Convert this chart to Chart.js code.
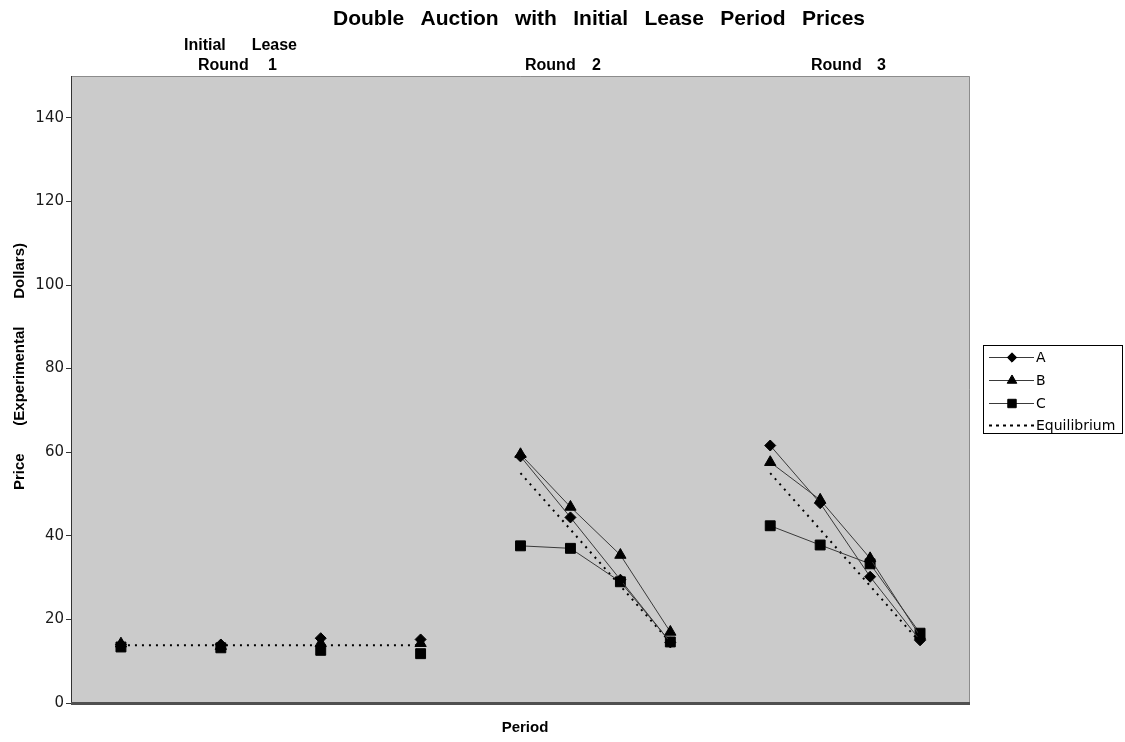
<!DOCTYPE html>
<html>
<head>
<meta charset="utf-8">
<script src="https://cdn.jsdelivr.net/npm/chart.js@4.4.1/dist/chart.umd.min.js"></script>
<style>
  html, body { margin: 0; padding: 0; background: #ffffff; }
  #wrap { width: 1125px; height: 742px; }
</style>
</head>
<body>
<div id="wrap"><canvas id="c" width="1125" height="742"></canvas></div>
<script>
// Period positions along the x scale (round 1 is spaced twice as wide)
const periodPos = [0, 2, 4, 6, 8, 9, 10, 11, 13, 14, 15, 16];
const roundOf   = [1, 1, 1, 1, 2, 2, 2, 2, 3, 3, 3, 3];

// Prices by series
const priceA   = [14.0, 14.0, 15.5, 15.2, 59.0, 44.4, 29.5, 14.5, 61.6, 47.8, 30.2, 15.0];
const priceB   = [14.2, 13.6, 14.3, 14.3, 59.5, 46.9, 35.4, 17.0, 57.6, 48.6, 34.6, 16.0];
const priceC   = [13.4, 13.2, 12.6, 11.8, 37.6, 37.0, 29.0, 14.6, 42.4, 37.8, 33.3, 16.7];
const priceEq  = [13.8, 13.8, 13.8, 13.8, 55.0, 41.5, 28.0, 14.5, 55.0, 41.5, 28.0, 14.5];

const seriesNames = ['A', 'B', 'C', 'Equilibrium'];
const yTicks = [0, 20, 40, 60, 80, 100, 120, 140];

const chartTitle = 'Double Auction with Initial Lease Period Prices';
const roundHeads = [
  { lines: ['Initial Lease', 'Round 1'] },
  { lines: ['Round 2'] },
  { lines: ['Round 3'] }
];
const xTitle = 'Period';
const yTitle = 'Price (Experimental Dollars)';

const toPoints = vals => vals.map((v, i) => ({ x: periodPos[i], y: v }));

// hide segments that cross rounds; series markers in round 1 stay unconnected
const segHide = joinFirstRound => ({
  borderColor: ctx => {
    const a = ctx.p0DataIndex, b = ctx.p1DataIndex;
    if (roundOf[a] !== roundOf[b]) return 'rgba(0,0,0,0)';
    if (!joinFirstRound && roundOf[a] === 1) return 'rgba(0,0,0,0)';
    return undefined;
  }
});

const lineCol = '#3a3a3a';
const datasets = [
  { label: seriesNames[0], data: toPoints(priceA), pointStyle: 'rectRot', pointRadius: 5.5,
    borderColor: lineCol, borderWidth: 1, pointBackgroundColor: '#000', pointBorderColor: '#000',
    pointBorderWidth: 1, segment: segHide(false) },
  { label: seriesNames[1], data: toPoints(priceB), pointStyle: 'triangle', pointRadius: 6.5,
    borderColor: lineCol, borderWidth: 1, pointBackgroundColor: '#000', pointBorderColor: '#000',
    pointBorderWidth: 1, segment: segHide(false) },
  { label: seriesNames[2], data: toPoints(priceC), pointStyle: 'rect', pointRadius: 7,
    borderColor: lineCol, borderWidth: 1, pointBackgroundColor: '#000', pointBorderColor: '#000',
    pointBorderWidth: 1, segment: segHide(false) },
  { label: seriesNames[3], data: toPoints(priceEq), pointRadius: 0, pointHoverRadius: 0,
    borderColor: '#000', borderWidth: 2, borderDash: [2, 5], segment: segHide(true) }
];

// words spread evenly across a span, with the gaps taking up the slack
function drawSpread(ctx, text, x0, x1, y) {
  const words = text.split(' ');
  const widths = words.map(w => ctx.measureText(w).width);
  const total = widths.reduce((s, w) => s + w, 0);
  const gap = words.length > 1 ? (x1 - x0 - total) / (words.length - 1) : 0;
  let x = words.length > 1 ? x0 : (x0 + x1 - total) / 2;
  ctx.textAlign = 'left';
  words.forEach((w, i) => { ctx.fillText(w, x, y); x += widths[i] + gap; });
}

const frame = {
  id: 'frame',
  beforeDraw(chart) {
    const { ctx, chartArea: a } = chart;
    ctx.save();
    ctx.fillStyle = '#cbcbcb';
    ctx.fillRect(a.left, a.top, a.right - a.left, a.bottom - a.top);
    ctx.strokeStyle = '#8c8c8c';
    ctx.lineWidth = 1;
    ctx.beginPath();
    ctx.moveTo(a.left, a.top + 0.5);
    ctx.lineTo(a.right - 0.5, a.top + 0.5);
    ctx.lineTo(a.right - 0.5, a.bottom);
    ctx.stroke();
    ctx.restore();
  },
  afterDatasetsDraw(chart) {
    const { ctx, chartArea: a } = chart;
    ctx.save();
    ctx.strokeStyle = '#505050';
    ctx.lineWidth = 3;
    ctx.beginPath();
    ctx.moveTo(a.left, a.bottom + 0.5);
    ctx.lineTo(a.right, a.bottom + 0.5);
    ctx.stroke();
    ctx.restore();
  }
};

const texts = {
  id: 'texts',
  afterDraw(chart) {
    const { ctx } = chart;
    ctx.save();
    ctx.fillStyle = '#000';
    ctx.textBaseline = 'middle';

    ctx.font = 'bold 21px "Liberation Sans", Arial, sans-serif';
    drawSpread(ctx, chartTitle, 333, 865, 19);

    ctx.font = 'bold 16px "Liberation Sans", Arial, sans-serif';
    drawSpread(ctx, roundHeads[0].lines[0], 184, 297, 46);
    drawSpread(ctx, roundHeads[0].lines[1], 198, 277, 66);
    drawSpread(ctx, roundHeads[1].lines[0], 525, 601, 66);
    drawSpread(ctx, roundHeads[2].lines[0], 811, 886, 66);

    ctx.font = 'bold 15px "Liberation Sans", Arial, sans-serif';
    drawSpread(ctx, xTitle, 498, 552, 728);

    ctx.translate(20, 0);
    ctx.rotate(-Math.PI / 2);
    ctx.font = 'bold 15px "Liberation Sans", Arial, sans-serif';
    drawSpread(ctx, yTitle, -490, -243, 0);
    ctx.restore();

    // legend
    ctx.save();
    const bx = 983.5, by = 345.5, bw = 139, bh = 88;
    ctx.fillStyle = '#fff';
    ctx.fillRect(bx, by, bw, bh);
    ctx.strokeStyle = '#000';
    ctx.lineWidth = 1;
    ctx.strokeRect(bx, by, bw, bh);
    const rowsY = [357, 380, 403, 425];
    chart.data.datasets.forEach((ds, i) => {
      const y = rowsY[i];
      ctx.save();
      ctx.strokeStyle = i === 3 ? '#000' : ds.borderColor;
      ctx.lineWidth = i === 3 ? 2 : 1;
      ctx.setLineDash(i === 3 ? [3, 4] : []);
      ctx.beginPath();
      ctx.moveTo(989, y + 0.5);
      ctx.lineTo(1034, y + 0.5);
      ctx.stroke();
      ctx.restore();
      if (ds.pointRadius > 0) {
        ctx.fillStyle = '#000';
        ctx.strokeStyle = '#000';
        ctx.lineWidth = 1;
        Chart.helpers.drawPoint(ctx, { pointStyle: ds.pointStyle, radius: ds.pointRadius * 0.85, borderWidth: 1 }, 1012, y + 0.5);
      }
      ctx.fillStyle = '#000';
      ctx.font = '14px "DejaVu Sans", sans-serif';
      ctx.textAlign = 'left';
      ctx.textBaseline = 'middle';
      ctx.fillText(ds.label, 1036, y + 1);
    });
    ctx.restore();
  }
};

new Chart(document.getElementById('c'), {
  type: 'line',
  data: { datasets },
  plugins: [frame, texts],
  options: {
    responsive: false,
    animation: false,
    events: [],
    layout: { padding: { top: 76, right: 155, bottom: 39, left: 0 } },
    plugins: { legend: { display: false }, title: { display: false }, tooltip: { enabled: false } },
    scales: {
      x: { type: 'linear', min: -1, max: 17, display: false },
      y: {
        type: 'linear', min: 0, max: 150,
        afterFit: s => { s.width = 71; },
        afterBuildTicks: s => { s.ticks = yTicks.map(v => ({ value: v })); },
        grid: { drawOnChartArea: false, drawTicks: true, tickLength: 5, color: '#333' },
        border: { display: true, color: '#333', width: 1 },
        ticks: { color: '#1a1a1a', padding: 2, font: { family: '"DejaVu Sans", sans-serif', size: 15 } }
      }
    }
  }
});
</script>
</body>
</html>
